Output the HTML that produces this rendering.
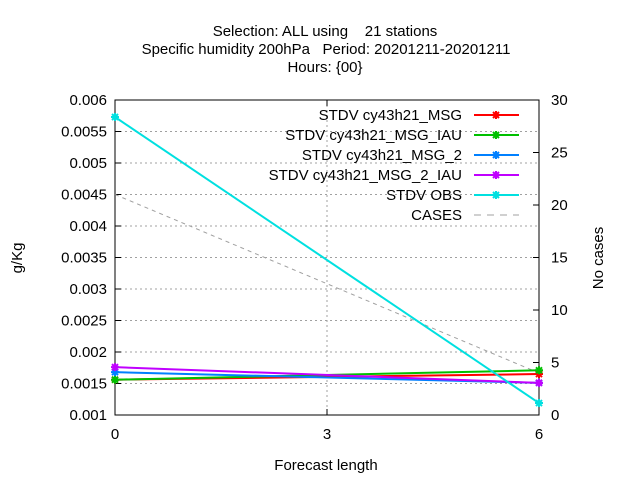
<!DOCTYPE html>
<html><head><meta charset="utf-8"><style>
body{margin:0;background:#fff}
svg{display:block;font-family:"Liberation Sans",sans-serif;font-size:15px}
</style></head><body>
<svg id="chart" width="640" height="480" viewBox="0 0 640 480">
<g text-anchor="middle" fill="#000">
<text x="325" y="36" xml:space="preserve">Selection: ALL using    21 stations</text>
<text x="326" y="54" xml:space="preserve">Specific humidity 200hPa   Period: 20201211-20201211</text>
<text x="325" y="72">Hours: {00}</text>
</g>
<g id="grid"></g>
<g id="axes"></g>
<g id="series"></g>
<g id="legend"></g>
<text transform="translate(22,258) rotate(-90)" text-anchor="middle">g/Kg</text>
<text transform="translate(603,258) rotate(-90)" text-anchor="middle">No cases</text>
<text x="326" y="470" text-anchor="middle">Forecast length</text>
</svg>
<script>
const xValues=[0,6];
const xTicks=[0,3,6];
const yTicks=[0.001,0.0015,0.002,0.0025,0.003,0.0035,0.004,0.0045,0.005,0.0055,0.006];
const yTickLabels=["0.001","0.0015","0.002","0.0025","0.003","0.0035","0.004","0.0045","0.005","0.0055","0.006"];
const y2Ticks=[0,5,10,15,20,25,30];
const seriesNames=["STDV cy43h21_MSG","STDV cy43h21_MSG_IAU","STDV cy43h21_MSG_2","STDV cy43h21_MSG_2_IAU","STDV OBS"];
const msg=[0.00156,0.00165];
const msgIau=[0.00156,0.00171];
const msg2=[0.00168,0.00151];
const msg2Iau=[0.00176,0.00151];
const obs=[0.00573,0.00119];
const cases=[21,4];
const colors=["#ff0000","#00c000","#0080ff","#c000ff","#00e0e0"];
const L=115,R=539,T=100,B=415;
const X=v=>L+(v-0)/(6-0)*(R-L);
const Y=v=>B-(v-0.001)/(0.005)*(B-T);
const Y2=v=>B-v/30*(B-T);
const NS="http://www.w3.org/2000/svg";
function mk(parent,tag,attrs){const e=document.createElementNS(NS,tag);for(const k in attrs)e.setAttribute(k,attrs[k]);parent.appendChild(e);return e;}
const grid=document.getElementById('grid'),axes=document.getElementById('axes'),ser=document.getElementById('series'),leg=document.getElementById('legend');
yTicks.forEach((t,i)=>{
  const y=Y(t);
  if(i>0&&i<yTicks.length-1){const g=mk(grid,'line',{x1:L,x2:R,y1:y,y2:y,stroke:'#a0a0a0','stroke-dasharray':'2,3'});
  
  }
  mk(axes,'line',{x1:L,x2:L+6,y1:y,y2:y,stroke:'#000'});
  const tx=mk(axes,'text',{x:L-8,y:y+5,'text-anchor':'end'});tx.textContent=yTickLabels[i];
  
  
});
y2Ticks.forEach(t=>{
  const y=Y2(t);
  mk(axes,'line',{x1:R-6,x2:R,y1:y,y2:y,stroke:'#000'});
  const tx=mk(axes,'text',{x:R+12,y:y+5});tx.textContent=t;
  
  
});
xTicks.forEach(t=>{
  const x=X(t);
  if(t>0&&t<6){const g=mk(grid,'line',{x1:x,x2:x,y1:T,y2:B,stroke:'#a0a0a0','stroke-dasharray':'2,3'});
  
  }
  mk(axes,'line',{x1:x,x2:x,y1:B,y2:B-6,stroke:'#000'});
  mk(axes,'line',{x1:x,x2:x,y1:T,y2:T+6,stroke:'#000'});
  const tx=mk(axes,'text',{x:x,y:B+24,'text-anchor':'middle'});tx.textContent=t;
  
  
});
mk(axes,'rect',{x:L,y:T,width:R-L,height:B-T,fill:'none',stroke:'#000'});
function star(p,x,y,c){mk(p,'path',{d:`M${x-4},${y}H${x+4}M${x},${y-4}V${y+4}M${x-3},${y-3}L${x+3},${y+3}M${x-3},${y+3}L${x+3},${y-3}`,stroke:c,'stroke-width':2,fill:'none'});}
const cl=mk(ser,'polyline',{points:xValues.map((x,i)=>X(x)+','+Y2(cases[i])).join(' '),fill:'none',stroke:'#a0a0a0','stroke-dasharray':'4,4','stroke-width':1});


[msg,msgIau,msg2,msg2Iau,obs].forEach((d,si)=>{
  const g=mk(ser,'g',{});
  
  
  mk(g,'polyline',{points:xValues.map((x,i)=>X(x)+','+Y(d[i])).join(' '),fill:'none',stroke:colors[si],'stroke-width':2});
  xValues.forEach((x,i)=>star(g,X(x),Y(d[i]),colors[si]));
});
seriesNames.concat(["CASES"]).forEach((n,i)=>{
  const y=115+i*20;
  const g=mk(leg,'g',{});
  
  
  const t=mk(g,'text',{x:462,y:y+5,'text-anchor':'end'});t.textContent=n;
  if(i<5){mk(g,'line',{x1:474,x2:519,y1:y,y2:y,stroke:colors[i],'stroke-width':2});star(g,496,y,colors[i]);}
  else mk(g,'line',{x1:474,x2:519,y1:y,y2:y,stroke:'#a0a0a0','stroke-dasharray':'7,6'});
});
</script>
</body></html>
